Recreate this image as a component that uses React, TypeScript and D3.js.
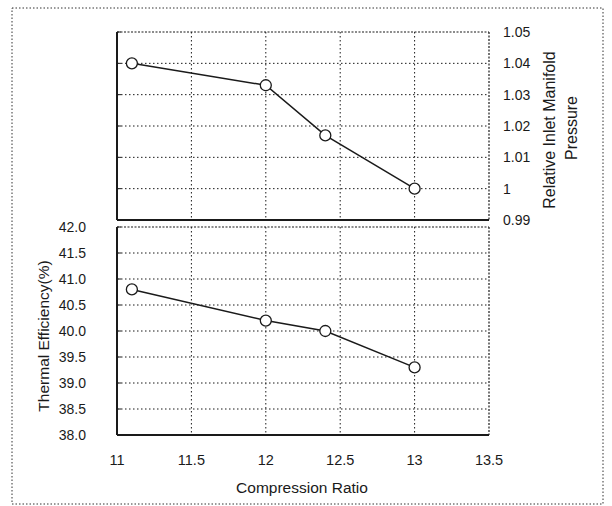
import React from "react";
import * as d3 from "d3";

// data
const ratio = [11.1, 12, 12.4, 13];
const pressure = [1.04, 1.033, 1.017, 1.0];
const efficiency = [40.8, 40.2, 40.0, 39.3];

const xTicks = [11, 11.5, 12, 12.5, 13, 13.5];
const xTickLabels = ["11", "11.5", "12", "12.5", "13", "13.5"];
const pTicks = [0.99, 1.0, 1.01, 1.02, 1.03, 1.04, 1.05];
const pTickLabels = ["0.99", "1", "1.01", "1.02", "1.03", "1.04", "1.05"];
const eTicks = [38, 38.5, 39, 39.5, 40, 40.5, 41, 41.5, 42];

const width = 612;
const height = 506;
const font = "'Liberation Sans', Arial, sans-serif";
const ink = "#1a1a1a";

const x = d3.scaleLinear().domain([11, 13.5]).range([117, 489]);
const yP = d3.scaleLinear().domain([0.99, 1.05]).range([220, 32]);
const yE = d3.scaleLinear().domain([38, 42]).range([435, 227]);

function Panel({ y, ticks, values }: { y: d3.ScaleLinear<number, number>; ticks: number[]; values: number[] }) {
  const [x0, x1] = x.range();
  const [yb, yt] = y.range();
  const line = d3
    .line<number>()
    .x((_, i) => x(ratio[i]))
    .y(d => y(d));
  return (
    <g>
      {/* horizontal grid */}
      {ticks.slice(1, -1).map(t => (
        <line key={"h" + t} x1={x0} x2={x1} y1={y(t)} y2={y(t)} stroke={ink} strokeWidth={1} strokeDasharray="1.5,2.5" />
      ))}
      {/* vertical grid */}
      {xTicks.slice(1, -1).map(t => (
        <line key={"v" + t} x1={x(t)} x2={x(t)} y1={yt} y2={yb} stroke={ink} strokeWidth={1} strokeDasharray="1.5,2.5" />
      ))}
      {/* small inward ticks on left frame */}
      {ticks.map(t => (
        <line key={"k" + t} x1={x0} x2={x0 + 4} y1={y(t)} y2={y(t)} stroke={ink} strokeWidth={1} />
      ))}
      <line x1={x0} x2={x1} y1={yt} y2={yt} stroke={ink} strokeWidth={1.2} strokeDasharray="2,1.5" />
      <line x1={x1} x2={x1} y1={yt} y2={yb} stroke={ink} strokeWidth={1.2} strokeDasharray="2,1.5" />
      <line x1={x0} x2={x0} y1={yt} y2={yb} stroke={ink} strokeWidth={2} />
      <line x1={x0} x2={x1} y1={yb} y2={yb} stroke={ink} strokeWidth={2} />
      <path d={line(values) || ""} fill="none" stroke={ink} strokeWidth={1.5} />
      {values.map((v, i) => (
        <circle key={i} cx={x(ratio[i])} cy={y(v)} r={5.5} fill="#fff" stroke={ink} strokeWidth={1.3} />
      ))}
    </g>
  );
}

export default function App() {
  return (
    <svg width={width} height={height} viewBox={`0 0 ${width} ${height}`} style={{ position: "absolute", left: 0, top: 0, background: "#fff" }} fontFamily={font}>
      <rect x={0} y={0} width={width} height={height} fill="#fff" />
      <rect x={12} y={8} width={591} height={496} fill="none" stroke="#333" strokeWidth={1} strokeDasharray="1.5,2" />

      <Panel y={yP} ticks={pTicks} values={pressure} />
      <Panel y={yE} ticks={eTicks} values={efficiency} />

      {/* right axis labels, top panel */}
      {pTicks.map((t, i) => (
        <text key={t} x={503} y={yP(t)} dy="0.35em" fontSize={14} fill={ink}>
          {pTickLabels[i]}
        </text>
      ))}
      <text transform={`translate(549,130) rotate(-90)`} textAnchor="middle" dy="0.35em" fontSize={16} fill={ink}>
        Relative Inlet Manifold
      </text>
      <text transform={`translate(571,128) rotate(-90)`} textAnchor="middle" dy="0.35em" fontSize={16} fill={ink}>
        Pressure
      </text>

      {/* left axis labels, bottom panel */}
      {eTicks.map(t => (
        <text key={t} x={86} y={yE(t)} dy="0.35em" textAnchor="end" fontSize={14} fill={ink}>
          {d3.format(".1f")(t)}
        </text>
      ))}
      <text transform={`translate(44,336) rotate(-90)`} textAnchor="middle" dy="0.35em" fontSize={15.5} fill={ink}>
        Thermal Efficiency(%)
      </text>

      {/* x axis */}
      {xTicks.map((t, i) => (
        <text key={t} x={x(t)} y={460} dy="0.35em" textAnchor="middle" fontSize={14.5} fill={ink}>
          {xTickLabels[i]}
        </text>
      ))}
      <text x={302} y={488} dy="0.35em" textAnchor="middle" fontSize={15.5} fill={ink}>
        Compression Ratio
      </text>
    </svg>
  );
}
